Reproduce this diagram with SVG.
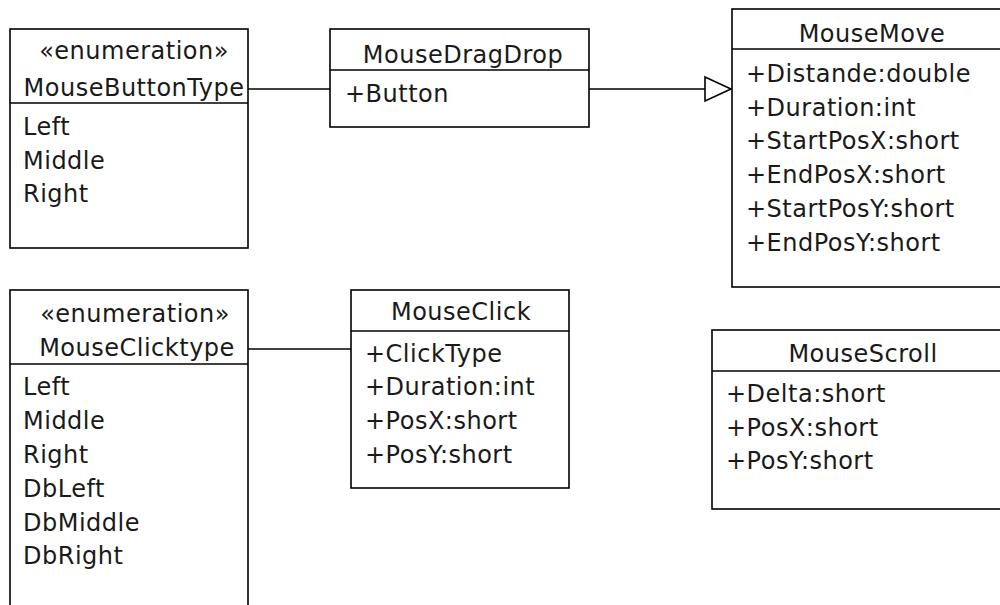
<svg xmlns="http://www.w3.org/2000/svg" width="1000" height="605" viewBox="0 0 1000 605">
<style>
.box{fill:#fff;stroke:#000;stroke-width:1.6}
.div{stroke:#000;stroke-width:1.6}
text{font-family:"DejaVu Sans","Liberation Sans",sans-serif;font-size:24px;fill:#1a1a1a;letter-spacing:0.5px}
.c{text-anchor:middle}
.conn{stroke:#000;stroke-width:1.6;fill:none}
</style>
<rect width="1000" height="605" fill="#fff"/>
<g id="connectors">
<line class="conn" x1="248" y1="89" x2="330" y2="89"/>
<line class="conn" x1="589" y1="89" x2="705" y2="89"/>
<polygon points="705,77 731,89 705,101" fill="#fff" stroke="#000" stroke-width="1.6"/>
<line class="conn" x1="248" y1="349" x2="351" y2="349"/>
</g>
<g id="MouseButtonType">
<rect class="box" x="10" y="29" width="238" height="219"/>
<line class="div" x1="10" y1="103" x2="248" y2="103"/>
<text class="c" x="134" y="59">«enumeration»</text>
<text class="c" x="134" y="96">MouseButtonType</text>
<text x="23" y="135">Left</text>
<text x="23" y="168.5">Middle</text>
<text x="23" y="202">Right</text>
</g>
<g id="MouseDragDrop">
<rect class="box" x="330" y="29" width="259" height="98"/>
<line class="div" x1="330" y1="70" x2="589" y2="70"/>
<text class="c" x="463" y="62.5">MouseDragDrop</text>
<text x="345" y="101.5">+Button</text>
</g>
<g id="MouseMove">
<rect class="box" x="732" y="9" width="290" height="278"/>
<line class="div" x1="732" y1="49" x2="1022" y2="49"/>
<text class="c" x="872" y="42">MouseMove</text>
<text x="746" y="82">+Distande:double</text>
<text x="746" y="115.5">+Duration:int</text>
<text x="746" y="149.3">+StartPosX:short</text>
<text x="746" y="183">+EndPosX:short</text>
<text x="746" y="216.7">+StartPosY:short</text>
<text x="746" y="250.5">+EndPosY:short</text>
</g>
<g id="MouseClicktype">
<rect class="box" x="10" y="290" width="238" height="330"/>
<line class="div" x1="10" y1="364" x2="248" y2="364"/>
<text class="c" x="135" y="322">«enumeration»</text>
<text class="c" x="137" y="356">MouseClicktype</text>
<text x="23" y="395">Left</text>
<text x="23" y="429">Middle</text>
<text x="23" y="463">Right</text>
<text x="23" y="496.7">DbLeft</text>
<text x="23" y="530.5">DbMiddle</text>
<text x="23" y="564">DbRight</text>
</g>
<g id="MouseClick">
<rect class="box" x="351" y="290" width="218" height="198"/>
<line class="div" x1="351" y1="331" x2="569" y2="331"/>
<text class="c" x="461" y="320">MouseClick</text>
<text x="365" y="361.5">+ClickType</text>
<text x="365" y="395">+Duration:int</text>
<text x="365" y="429">+PosX:short</text>
<text x="365" y="463">+PosY:short</text>
</g>
<g id="MouseScroll">
<rect class="box" x="712" y="330" width="310" height="179"/>
<line class="div" x1="712" y1="371" x2="1022" y2="371"/>
<text class="c" x="863" y="361.5">MouseScroll</text>
<text x="726" y="401.5">+Delta:short</text>
<text x="726" y="435.5">+PosX:short</text>
<text x="726" y="469.3">+PosY:short</text>
</g>
</svg>
